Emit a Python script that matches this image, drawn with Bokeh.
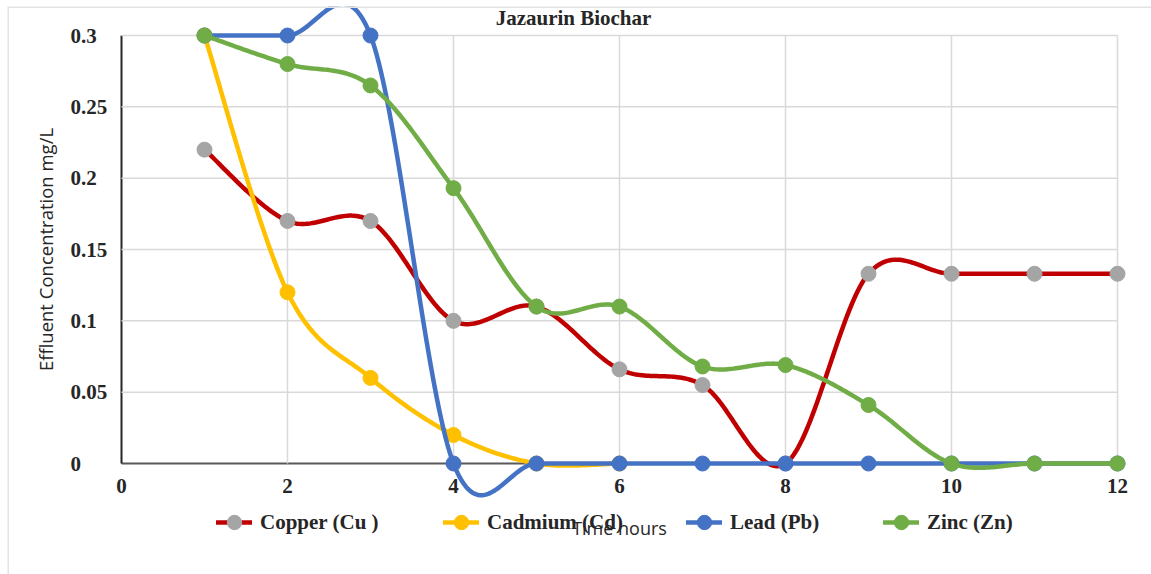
import numpy as np
from bokeh.plotting import figure
from bokeh.models import Range1d, FixedTicker, Legend, LegendItem, Label, Span
from bokeh.embed import file_html
from bokeh.resources import INLINE

# ---------------- data ----------------
TITLE = "Jazaurin Biochar"
X_LABEL = "Time hours"
Y_LABEL = "Effluent Concentration mg/L"
X_TICKS = [0, 2, 4, 6, 8, 10, 12]
Y_TICKS = [0, 0.05, 0.1, 0.15, 0.2, 0.25, 0.3]
Y_TICK_LABELS = ["0", "0.05", "0.1", "0.15", "0.2", "0.25", "0.3"]

time_hours = [1, 2, 3, 4, 5, 6, 7, 8, 9, 10, 11, 12]
copper = [0.22, 0.17, 0.17, 0.10, 0.11, 0.066, 0.055, 0.0, 0.133, 0.133, 0.133, 0.133]
cadmium_hours = [1, 2, 3, 4, 5, 6]
cadmium = [0.30, 0.12, 0.06, 0.02, 0.0, 0.0]
lead = [0.30, 0.30, 0.30, 0.0, 0.0, 0.0, 0.0, 0.0, 0.0, 0.0, 0.0, 0.0]
zinc = [0.30, 0.28, 0.265, 0.193, 0.11, 0.11, 0.068, 0.069, 0.041, 0.0, 0.0, 0.0]

series_names = ["Copper (Cu )", "Cadmium (Cd)", "Lead (Pb)", "Zinc (Zn)"]
line_colors = ["#C00000", "#FFC000", "#4472C4", "#70AD47"]
marker_colors = ["#A5A5A5", "#FFC000", "#4472C4", "#70AD47"]


def smooth(xs, ys, n=40):
    """Excel-style smoothed line (Catmull-Rom Bezier through the data points)."""
    P = np.column_stack([xs, ys]).astype(float)
    m = len(P)
    out = [P[0]]
    t = np.linspace(0, 1, n + 1)[1:, None]
    for i in range(m - 1):
        p0 = P[i - 1] if i > 0 else P[i]
        p1, p2 = P[i], P[i + 1]
        p3 = P[i + 2] if i + 2 < m else P[i + 1]
        c1 = p1 + (p2 - p0) / 6.0
        c2 = p2 - (p3 - p1) / 6.0
        seg = (1 - t) ** 3 * p1 + 3 * (1 - t) ** 2 * t * c1 + 3 * (1 - t) * t ** 2 * c2 + t ** 3 * p2
        out.extend(seg)
    out = np.array(out)
    return out[:, 0], out[:, 1]


# ---------------- figure (frame covers the whole chart area) ----------------
X_START, X_END = -1.3735, 12.4096
Y_BOTTOM, Y_TOP = -0.0778, 0.32033
p = figure(width=1151, height=574, output_backend="svg", toolbar_location=None,
           x_range=Range1d(X_START, X_END), y_range=Range1d(Y_BOTTOM, Y_TOP),
           min_border_left=7, min_border_right=0, min_border_top=6, min_border_bottom=0)
p.outline_line_color = None
p.background_fill_color = "white"
p.border_fill_color = "white"
p.xgrid.visible = False
p.ygrid.visible = False

# chart border (left and top edges visible in the reference)
p.add_layout(Span(location=X_START, dimension="height", line_color="#E3E3E3", line_width=3))
p.add_layout(Span(location=Y_TOP, dimension="width", line_color="#E3E3E3", line_width=3))

GRID = "#D9D9D9"
hy = Y_TICKS[1:]
p.segment(x0=[X_TICKS[0]] * len(hy), y0=hy, x1=[X_TICKS[-1]] * len(hy), y1=hy,
          line_color=GRID, line_width=1.5)
vx = X_TICKS[1:]
p.segment(x0=vx, y0=[Y_TICKS[0]] * len(vx), x1=vx, y1=[Y_TICKS[-1]] * len(vx),
          line_color=GRID, line_width=1.5)

# x axis at y = 0
xa = p.xaxis[0]
xa.fixed_location = 0
xa.bounds = (X_TICKS[0], X_TICKS[-1])
xa.ticker = FixedTicker(ticks=X_TICKS)
xa.axis_line_color = "#595959"
xa.axis_line_width = 2
xa.major_tick_in = 0
xa.major_tick_out = 0
xa.minor_tick_in = 0
xa.minor_tick_out = 0
xa.major_label_standoff = 15
xa.major_label_text_font = "Liberation Serif"
xa.major_label_text_font_style = "bold"
xa.major_label_text_font_size = "21px"
xa.major_label_text_color = "#262626"
xa.level = "underlay"

# y axis at x = 0 (line only)
ya = p.yaxis[0]
ya.fixed_location = 0
ya.ticker = FixedTicker(ticks=Y_TICKS)
ya.bounds = (Y_TICKS[0], Y_TICKS[-1])
ya.axis_line_color = "#262626"
ya.axis_line_width = 2
ya.major_tick_in = 0
ya.major_tick_out = 0
ya.minor_tick_in = 0
ya.minor_tick_out = 0
ya.major_label_text_color = None
ya.major_label_text_font_size = "1px"
ya.level = "underlay"

SERIF = dict(text_font="Liberation Serif", text_font_style="bold",
             text_font_size="21px", text_color="#262626")

for v, s in zip(Y_TICKS, Y_TICK_LABELS):
    p.add_layout(Label(x=63, y=v, x_units="screen", y_units="data", text=s,
                       text_align="left", text_baseline="middle", **SERIF))

p.add_layout(Label(x=38, y=(Y_TICKS[0] + Y_TICKS[-1]) / 2, x_units="screen", y_units="data",
                   text=Y_LABEL, angle=90, angle_units="deg",
                   text_align="center", text_baseline="middle",
                   text_font="Open Sans", text_font_size="18.5px", text_color="#262626"))

p.add_layout(Label(x=566, y=557, x_units="screen", y_units="screen", text=TITLE,
                   text_align="center", text_baseline="middle", **SERIF))

# ---------------- series ----------------
all_x = [time_hours, cadmium_hours, time_hours, time_hours]
all_y = [copper, cadmium, lead, zinc]
legend_x = [209, 436, 679, 876]

for name, xs, ys, lc, mc, lx in zip(series_names, all_x, all_y, line_colors, marker_colors, legend_x):
    sx, sy = smooth(xs, ys)
    lr = p.line(sx, sy, line_color=lc, line_width=4.5, line_join="round", line_cap="round")
    sr = p.scatter(xs, ys, marker="circle", size=15, fill_color=mc, line_color=mc)
    leg = Legend(items=[LegendItem(label=name, renderers=[lr, sr])],
                 location=(lx, 34), orientation="horizontal",
                 glyph_width=36, glyph_height=36, label_standoff=8,
                 padding=0, margin=0, border_line_color=None, background_fill_alpha=0,
                 label_text_font="Liberation Serif", label_text_font_style="bold",
                 label_text_font_size="21px", label_text_color="#262626")
    p.add_layout(leg, "center")

# x axis title drawn over the legend, as in the reference
p.add_layout(Label(x=(X_TICKS[0] + X_TICKS[-1]) / 2, y=47, x_units="data", y_units="screen",
                   text=X_LABEL, text_align="center", text_baseline="middle",
                   text_font="Open Sans", text_font_size="18px", text_color="#262626"))

open("out.html", "w").write(file_html(p, INLINE))
